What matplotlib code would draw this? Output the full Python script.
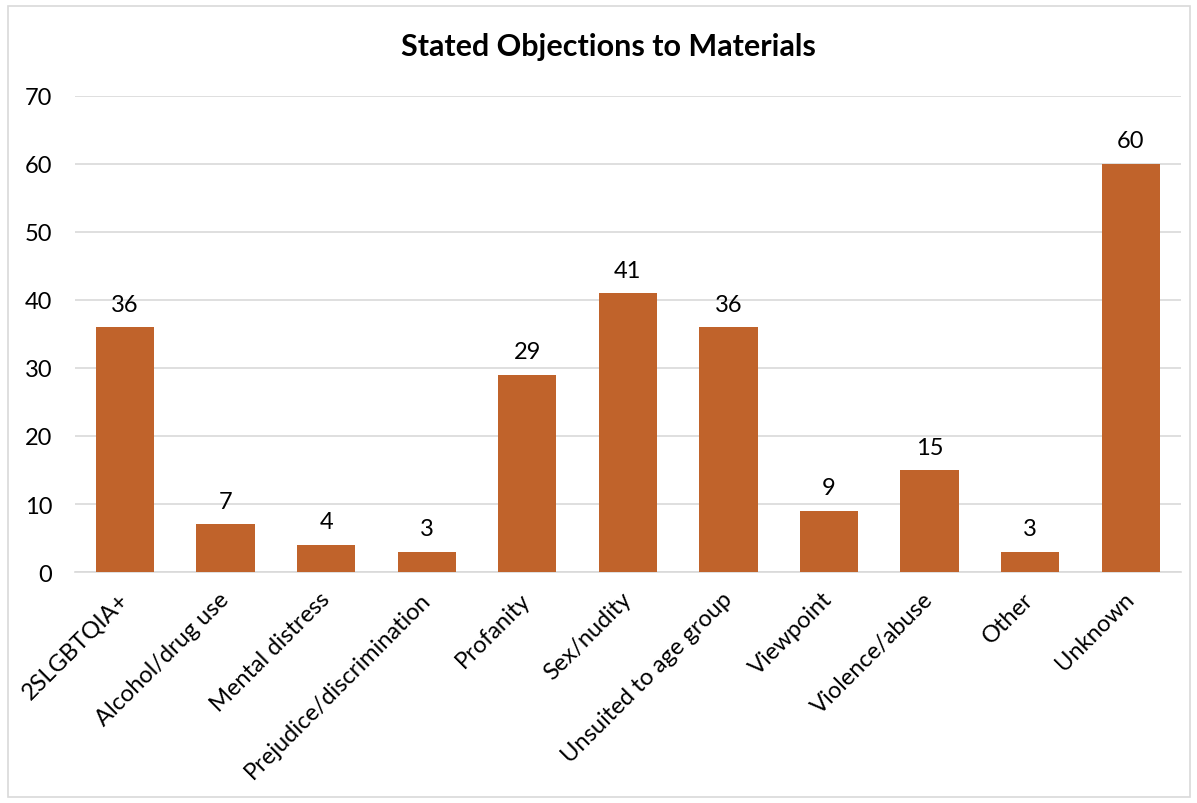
import matplotlib.pyplot as plt
from matplotlib.patches import Rectangle

categories = ["2SLGBTQIA+", "Alcohol/drug use", "Mental distress", "Prejudice/discrimination",
              "Profanity", "Sex/nudity", "Unsuited to age group", "Viewpoint",
              "Violence/abuse", "Other", "Unknown"]
counts = [36, 7, 4, 3, 29, 41, 36, 9, 15, 3, 60]
y_ticks = [0, 10, 20, 30, 40, 50, 60, 70]

plt.rcParams['font.family'] = ['Lato', 'DejaVu Sans']

fig = plt.figure(figsize=(11.97, 8.04), dpi=100)
ax = fig.add_axes([0.0624, 0.2873, 0.9242, 0.5921])

x = range(len(categories))
bars = ax.bar(x, counts, width=0.58, color='#C0632B', zorder=3)
for b, v in zip(bars, counts):
    ax.annotate(str(v), (b.get_x() + b.get_width() / 2, v), xytext=(0, 9),
                textcoords='offset points', ha='center', va='bottom', fontsize=17)

ax.set_xlim(-0.5, len(categories) - 0.5)
ax.set_ylim(0, 70)
ax.set_yticks(y_ticks)
ax.set_xticks(list(x))
ax.set_xticklabels(categories, rotation=45, ha='right', va='center',
                   rotation_mode='anchor', fontsize=17)
ax.tick_params(axis='x', length=0, pad=17)
ax.tick_params(axis='y', length=0, pad=16, labelsize=17)
ax.grid(axis='y', color='#D9D9D9', linewidth=1.2, zorder=0)
for s in ['top', 'right', 'left']:
    ax.spines[s].set_visible(False)
ax.spines['bottom'].set_color('#D9D9D9')
ax.spines['bottom'].set_linewidth(1.2)

fig.text(0.508, 0.941, "Stated Objections to Materials", ha='center', va='center',
         fontsize=22, fontweight='bold')

fig.patches.append(Rectangle((0.007, 0.008), 0.987, 0.983, transform=fig.transFigure,
                             fill=False, edgecolor='#D9D9D9', linewidth=1.2))

fig.savefig('out.png', dpi=100)
